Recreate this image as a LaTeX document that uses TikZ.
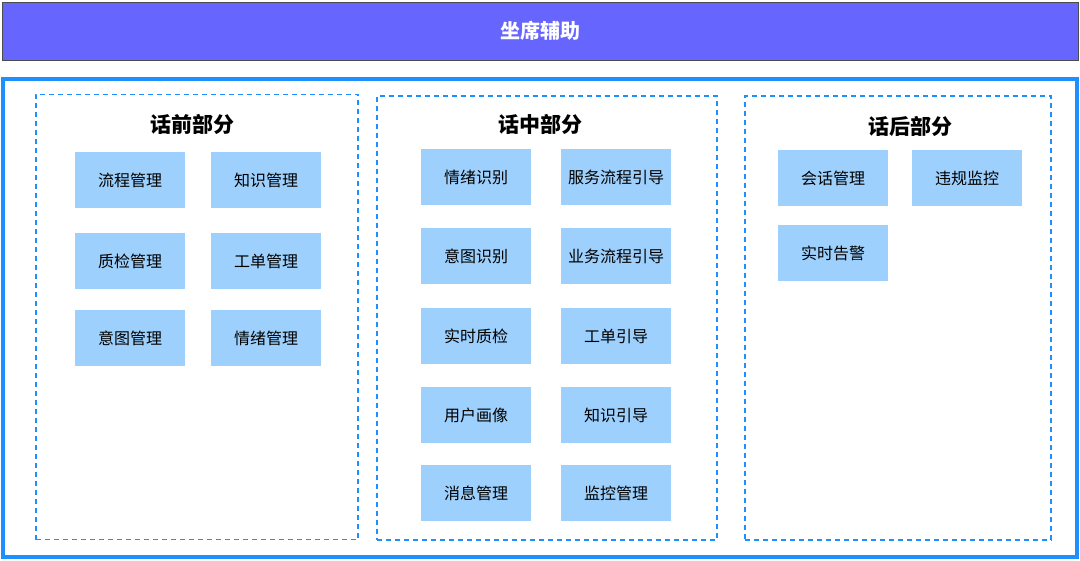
\documentclass[tikz,border=0pt]{standalone}
\usepackage{fontspec}
\setmainfont{Noto Sans CJK SC}
\begin{document}
\begin{tikzpicture}[x=1pt,y=-1pt,
  item/.style={fill=itemblue,draw=none,minimum width=110pt,minimum height=56pt,text width=104pt,align=center,font=\fontsize{16}{18}\selectfont,inner sep=2pt},
  zone/.style={draw=zoneblue,dashed,line width=1.8pt,dash pattern=on 5pt off 4pt},
  ttl/.style={font=\fontsize{21}{24}\selectfont\bfseries}]
\definecolor{itemblue}{HTML}{9DD0FC}
\definecolor{zoneblue}{HTML}{1E8FFF}
\definecolor{barblue}{HTML}{6666FF}
\useasboundingbox (0,0) rectangle (1080,561);
\node[draw=black!70,fill=barblue,line width=0.8pt,minimum width=1076pt,minimum height=58pt,text=white,font=\fontsize{20}{24}\selectfont\bfseries] (top) at (540,31) {坐席辅助};
\node[draw=zoneblue,line width=4pt,minimum width=1074pt,minimum height=478pt] (outer) at (540,318) {};
\node[zone,minimum width=322pt,minimum height=445pt] (z1) at (197,317) {};
\node[zone,minimum width=340pt,minimum height=444pt] (z2) at (547,318) {};
\node[zone,minimum width=306pt,minimum height=444pt] (z3) at (898,318) {};
\node[ttl] (t1) at (192,124) {话前部分};
\node[ttl] (t2) at (540,124) {话中部分};
\node[ttl] (t3) at (910,126) {话后部分};
\node[item] (a1) at (130,180) {流程管理};
\node[item] (a2) at (266,180) {知识管理};
\node[item] (a3) at (130,261) {质检管理};
\node[item] (a4) at (266,261) {工单管理};
\node[item] (a5) at (130,338) {意图管理};
\node[item] (a6) at (266,338) {情绪管理};
\node[item] (b1) at (476,177) {情绪识别};
\node[item] (b2) at (616,177) {服务流程引导};
\node[item] (b3) at (476,256) {意图识别};
\node[item] (b4) at (616,256) {业务流程引导};
\node[item] (b5) at (476,336) {实时质检};
\node[item] (b6) at (616,336) {工单引导};
\node[item] (b7) at (476,415) {用户画像};
\node[item] (b8) at (616,415) {知识引导};
\node[item] (b9) at (476,493) {消息管理};
\node[item] (b10) at (616,493) {监控管理};
\node[item] (c1) at (833,178) {会话管理};
\node[item] (c2) at (967,178) {违规监控};
\node[item] (c3) at (833,253) {实时告警};
\end{tikzpicture}
\end{document}
